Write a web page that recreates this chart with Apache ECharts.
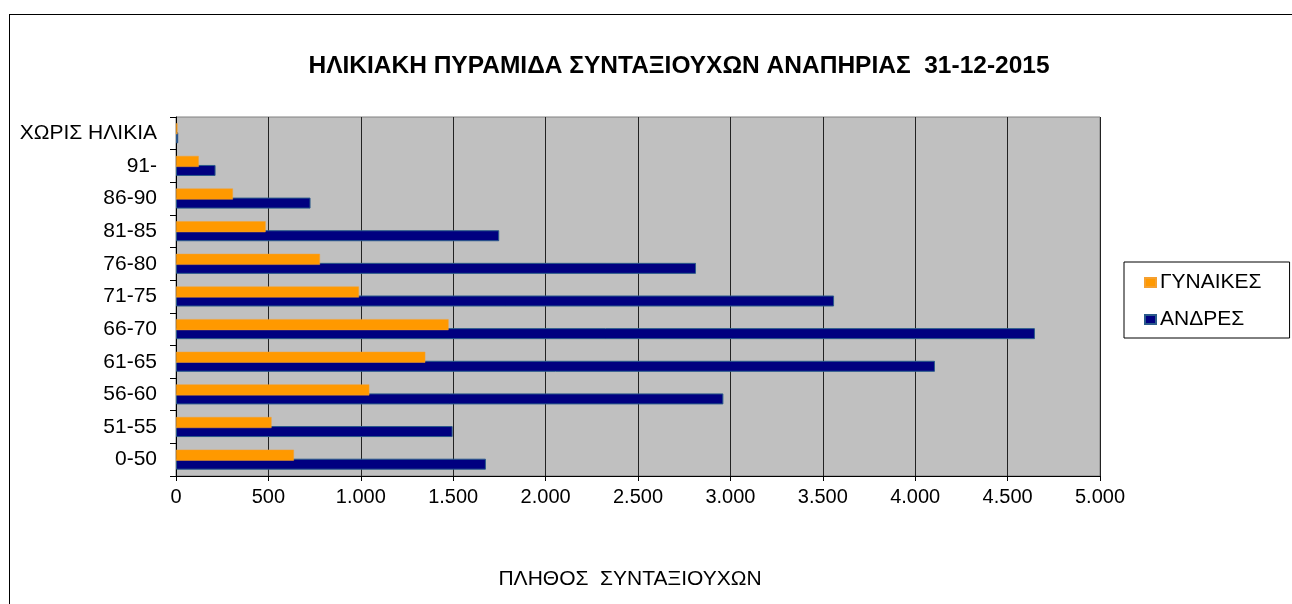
<!DOCTYPE html>
<html>
<head>
<meta charset="utf-8">
<script src="https://cdn.jsdelivr.net/npm/echarts@6/dist/echarts.min.js"></script>
<style>
  html, body { margin: 0; padding: 0; background: #fff; }
  #frame { position: absolute; left: 9px; top: 14px; width: 1300px; height: 620px; border: 1px solid #000; box-sizing: border-box; }
  #chart { position: absolute; left: 0; top: 0; width: 1292px; height: 604px; }
</style>
</head>
<body>
<div id="frame"></div>
<div id="chart"></div>
<script>
// age groups, bottom to top
const ageGroups = ['0-50', '51-55', '56-60', '61-65', '66-70', '71-75', '76-80', '81-85', '86-90', '91-', 'ΧΩΡΙΣ ΗΛΙΚΙΑ']
const men = [1677, 1497, 2962, 4107, 4648, 3561, 2814, 1749, 728, 214, 12]
const women = [638, 517, 1046, 1349, 1475, 990, 779, 485, 308, 123, 8]
const xTicks = [0, 500, 1000, 1500, 2000, 2500, 3000, 3500, 4000, 4500, 5000]

const font = 'Arial, "Liberation Sans", sans-serif'

const chart = echarts.init(document.getElementById('chart'))
chart.setOption({
  animation: false,
  title: {
    text: 'ΗΛΙΚΙΑΚΗ ΠΥΡΑΜΙΔΑ ΣΥΝΤΑΞΙΟΥΧΩΝ ΑΝΑΠΗΡΙΑΣ  31-12-2015',
    left: 674,
    textAlign: 'center',
    top: 49,
    textStyle: { fontFamily: font, fontSize: 24.5, fontWeight: 'bold', color: '#000' }
  },
  legend: {
    data: ['ΓΥΝΑΙΚΕΣ', 'ΑΝΔΡΕΣ'],
    orient: 'vertical',
    left: 1124,
    top: 262,
    padding: [10, 28, 8, 20],
    itemGap: 16,
    itemWidth: 11,
    itemHeight: 9,
    icon: 'rect',
    borderColor: '#000',
    borderWidth: 1,
    textStyle: { fontFamily: font, fontSize: 21, color: '#000', padding: [0, 0, 0, -1] }
  },
  grid: { left: 176, right: 192, top: 117, bottom: 128, containLabel: false, show: true, backgroundColor: '#c0c0c0', borderColor: '#808080', borderWidth: 1 },
  xAxis: {
    type: 'value',
    min: 0,
    max: 5000,
    interval: 500,
    name: 'ΠΛΗΘΟΣ  ΣΥΝΤΑΞΙΟΥΧΩΝ',
    nameLocation: 'middle',
    nameGap: 93,
    nameTextStyle: { fontFamily: font, fontSize: 21, color: '#000', padding: [0, 16, 0, 0] },
    axisLine: { show: true, lineStyle: { color: '#000', width: 1 } },
    axisTick: { show: true, length: 5, lineStyle: { color: '#000' } },
    axisLabel: {
      fontFamily: font, fontSize: 20, color: '#000', margin: 11,
      formatter: v => xTicks.indexOf(v) >= 0 ? v.toLocaleString('de-DE') : ''
    },
    splitLine: { show: true, lineStyle: { color: '#222', width: 1 } }
  },
  yAxis: {
    type: 'category',
    data: ageGroups,
    axisLine: { show: true, lineStyle: { color: '#000', width: 1 } },
    axisTick: { show: true, length: 6, lineStyle: { color: '#000' } },
    axisLabel: { fontFamily: font, fontSize: 21, color: '#000', margin: 19 },
    splitLine: { show: false }
  },
  series: [
    {
      name: 'ΓΥΝΑΙΚΕΣ',
      type: 'bar',
      data: women,
      barWidth: 11,
      barGap: '-18%',
      itemStyle: { color: '#ff9900', borderColor: '#f5a030', borderWidth: 0.5 },
      z: 3
    },
    {
      name: 'ΑΝΔΡΕΣ',
      type: 'bar',
      data: men,
      barWidth: 11,
      itemStyle: { color: '#000080', borderColor: '#2a5a8a', borderWidth: 1 },
      z: 2
    }
  ]
})
</script>
</body>
</html>
